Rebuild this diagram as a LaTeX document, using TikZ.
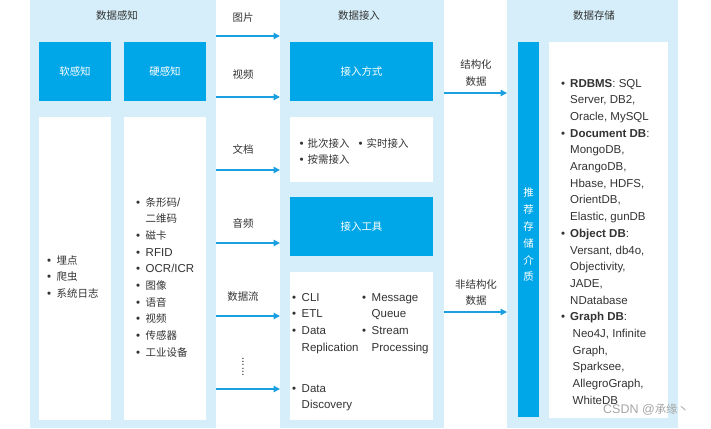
\documentclass[tikz,border=0pt]{standalone}
\usepackage{fontspec}
\setmainfont{Liberation Sans}
\newfontfamily\cjk[Scale=0.91]{Noto Sans CJK SC}
\usetikzlibrary{arrows.meta}
\definecolor{panelblue}{HTML}{D5EEF9}
\definecolor{boxblue}{HTML}{00A7E8}
\definecolor{arrowblue}{HTML}{1A9FE0}
\definecolor{txt}{HTML}{333333}
\newcommand\zh[1]{{\cjk #1}}
\newcommand\bl{\textbullet}
\newcommand\blist[2]{\begin{tabular}[t]{@{}l@{\hspace{#1}}l@{}}#2\end{tabular}}
\begin{document}
\begin{tikzpicture}[x=1pt,y=-1pt,
  every node/.style={font=\fontsize{11.5}{16.7}\selectfont, text=txt},
  panel/.style={fill=panelblue, draw=none, anchor=north west, inner sep=0, outer sep=0},
  bluebox/.style={fill=boxblue, draw=none, anchor=north west, inner sep=0, outer sep=0},
  whitebox/.style={fill=white, draw=none, anchor=north west, inner sep=0, outer sep=0},
  boxlabel/.style={text=white, font=\cjk\fontsize{11.5}{16.7}\selectfont},
  title/.style={font=\cjk\fontsize{11.5}{16.7}\selectfont, text=txt},
  lbl/.style={font=\cjk\fontsize{11.5}{16.7}\selectfont, text=txt, align=center},
  lst/.style={anchor=base west, inner sep=0},
  arr/.style={draw=arrowblue, line width=1.3pt, -{Triangle[length=6.5pt,width=6.5pt]}}
]
\useasboundingbox (0,0) rectangle (711,428);
\fill[white] (0,0) rectangle (711,428);

% panels
\node[panel, minimum width=186pt, minimum height=428pt] (lp) at (30,0) {};
\node[panel, minimum width=164pt, minimum height=428pt] (mp) at (280,0) {};
\node[panel, minimum width=171pt, minimum height=428pt] (rp) at (507,0) {};

% titles
\node[title] (lpt) at (117,16) {数据感知};
\node[title] (mpt) at (359,16) {数据接入};
\node[title] (rpt) at (594,16) {数据存储};

% left panel boxes
\node[bluebox, minimum width=72pt, minimum height=59pt] (soft) at (39,42) {};
\node[boxlabel] at (soft.center) {软感知};
\node[bluebox, minimum width=82pt, minimum height=59pt] (hard) at (124,42) {};
\node[boxlabel] at (hard.center) {硬感知};
\node[whitebox, minimum width=72pt, minimum height=303pt] (softw) at (39,117) {};
\node[whitebox, minimum width=82pt, minimum height=303pt] (hardw) at (124,117) {};

\node[lst] (softlist) at (47,264) {\blist{5.5pt}{
\bl & \zh{埋点}\\
\bl & \zh{爬虫}\\
\bl & \zh{系统日志}}};

\node[lst] (hardlist) at (136,206) {\blist{5.5pt}{
\bl & \zh{条形码}/\\
 & \zh{二维码}\\
\bl & \zh{磁卡}\\
\bl & RFID\\
\bl & OCR/ICR\\
\bl & \zh{图像}\\
\bl & \zh{语音}\\
\bl & \zh{视频}\\
\bl & \zh{传感器}\\
\bl & \zh{工业设备}}};

% middle panel boxes
\node[bluebox, minimum width=143pt, minimum height=59pt] (mode) at (290,42) {};
\node[boxlabel] at (mode.center) {接入方式};
\node[whitebox, minimum width=143pt, minimum height=65pt] (modew) at (290,117) {};
\node[bluebox, minimum width=143pt, minimum height=59pt] (tool) at (290,197) {};
\node[boxlabel] at (tool.center) {接入工具};
\node[whitebox, minimum width=143pt, minimum height=148pt] (toolw) at (290,272) {};

\node[lst] (modelist) at (299.5,147) {\begin{tabular}[t]{@{}l@{\hspace{4pt}}l@{\hspace{9pt}}l@{\hspace{4pt}}l@{}}
\bl & \zh{批次接入} & \bl & \zh{实时接入}\\
\bl & \zh{按需接入} & & \end{tabular}};

\node[lst] (toollistA) at (292,301) {\blist{5.5pt}{
\bl & CLI\\
\bl & ETL\\
\bl & Data\\
 & Replication}};
\node[lst] (toollistB) at (362,301) {\blist{5.5pt}{
\bl & Message\\
 & Queue\\
\bl & Stream\\
 & Processing}};
\node[lst] (toollistC) at (292,392) {\blist{5.5pt}{
\bl & Data\\
 & Discovery}};

% right panel
\node[bluebox, minimum width=21pt, minimum height=375pt] (bar) at (518,42) {};
\node[boxlabel, align=center, font=\cjk\fontsize{11.5}{16.8}\selectfont] at (528.5,235) {推\\荐\\存\\储\\介\\质};
\node[whitebox, minimum width=119pt, minimum height=376pt] (storew) at (549,42) {};

\node[lst] (storelist) at (561,87) {\blist{5pt}{
\bl & \textbf{RDBMS}: SQL\\
 & Server, DB2,\\
 & Oracle, MySQL\\
\bl & \textbf{Document DB}:\\
 & MongoDB,\\
 & ArangoDB,\\
 & Hbase, HDFS,\\
 & OrientDB,\\
 & Elastic, gunDB\\
\bl & \textbf{Object DB}:\\
 & Versant, db4o,\\
 & Objectivity,\\
 & JADE,\\
 & NDatabase\\
\bl & \textbf{Graph DB}:\\
 & \hspace{2.5pt}Neo4J, Infinite\\
 & \hspace{2.5pt}Graph,\\
 & \hspace{2.5pt}Sparksee,\\
 & \hspace{2.5pt}AllegroGraph,\\
 & \hspace{2.5pt}WhiteDB}};

% left -> middle arrows and labels
\node[lbl] (l1) at (243,18) {图片};
\node[lbl] (l2) at (243,75) {视频};
\node[lbl] (l3) at (243,149) {文档};
\node[lbl] (l4) at (243,223) {音频};
\node[lbl] (l5) at (243,297) {数据流};
\node[rotate=90, inner sep=0] (l6) at (243,367) {......};
\foreach \yy in {36,97,170,243,316,389}{
  \draw[arr] (lp.east |- 0,\yy) -- (mp.west |- 0,\yy);
}

% middle -> right arrows
\node[lbl] (s1) at (476,73) {结构化\\数据};
\node[lbl] (s2) at (476,292.5) {非结构化\\数据};
\draw[arr] (mp.east |- 0,93) -- (rp.west |- 0,93);
\draw[arr] (mp.east |- 0,312) -- (rp.west |- 0,312);

% watermark
\node[anchor=west, text=black!35, font=\fontsize{12.5}{14}\selectfont, inner sep=0] (wm) at (603,410) {CSDN @\zh{承缘丶}};
\end{tikzpicture}
\end{document}
